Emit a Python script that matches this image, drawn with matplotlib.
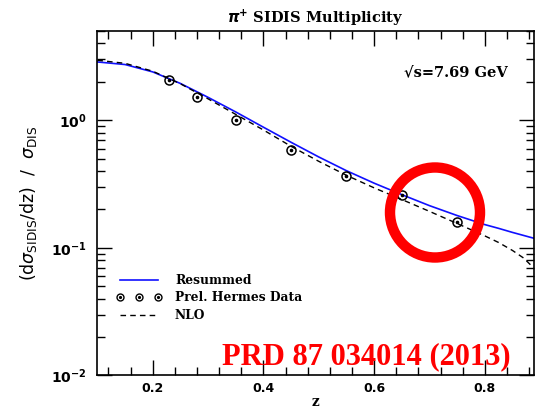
import numpy as np
import matplotlib
matplotlib.use("Agg")
import matplotlib.pyplot as plt
from matplotlib.patches import Ellipse
from matplotlib.lines import Line2D
from matplotlib.ticker import FixedLocator, MultipleLocator, LogLocator, NullFormatter, FuncFormatter

# Preliminary HERMES pi+ multiplicities
z_data = [0.23, 0.28, 0.35, 0.45, 0.55, 0.65, 0.75]
m_data = [2.06, 1.52, 1.00, 0.589, 0.364, 0.258, 0.158]

# Theory curves
z_curve = [0.10, 0.15, 0.20, 0.25, 0.30, 0.35, 0.40, 0.45, 0.50, 0.55,
           0.60, 0.65, 0.70, 0.75, 0.80, 0.825, 0.85, 0.87, 0.888]
m_resummed = [2.86, 2.73, 2.39, 1.94, 1.51, 1.16, 0.881, 0.671, 0.515, 0.402,
              0.321, 0.261, 0.214, 0.179, 0.152, 0.142, 0.132, 0.125, 0.119]
m_nlo = [2.95, 2.79, 2.42, 1.93, 1.47, 1.11, 0.838, 0.624, 0.476, 0.370,
         0.295, 0.239, 0.193, 0.155, 0.124, 0.110, 0.0953, 0.0832, 0.0698]

x_ticks = [0.2, 0.4, 0.6, 0.8]

W, H = 535, 409
fig = plt.figure(figsize=(W / 100, H / 100), dpi=100)
ax = fig.add_axes([97.4 / W, 1 - 375.4 / H, (533.5 - 97.4) / W, (375.4 - 31) / H])

lab_font = dict(family="DejaVu Serif", weight="bold")

res_line, = ax.plot(z_curve, m_resummed, color="#1010ff", lw=1.2)
nlo_line, = ax.plot(z_curve, m_nlo, color="black", lw=1.0, ls=(0, (4, 3)))
ax.plot(z_data, m_data, ls="none", marker="o", ms=6.5,
        mfc="none", mec="black", mew=1.1)
ax.plot(z_data, m_data, ls="none", marker="o", ms=1.6,
        mfc="black", mec="black")

ax.set_yscale("log")
ax.set_xlim(0.1, 0.888)
ax.set_ylim(0.01, 5.0)

ax.xaxis.set_major_locator(FixedLocator(x_ticks))
ax.xaxis.set_minor_locator(MultipleLocator(0.04))
ax.yaxis.set_major_locator(LogLocator(base=10, numticks=10))
ax.yaxis.set_minor_locator(LogLocator(base=10, subs=np.arange(2, 10), numticks=20))
ax.yaxis.set_minor_formatter(NullFormatter())
ax.xaxis.set_major_formatter(FuncFormatter(lambda v, p: f"{v:.1f}"))

ax.tick_params(which="both", direction="in", top=True, right=True, width=1.0, colors="black")
ax.tick_params(which="major", length=11)
ax.tick_params(which="minor", length=6)
ax.tick_params(axis="x", which="major", pad=5, labelsize=9)
ax.tick_params(axis="y", which="major", pad=8, labelsize=10)
for lbl in ax.get_xticklabels() + ax.get_yticklabels():
    lbl.set_fontfamily("DejaVu Sans")
    lbl.set_fontweight("bold")
for s in ax.spines.values():
    s.set_linewidth(1.2)

ax.set_xlabel("z", fontsize=10, labelpad=0, **lab_font)
ax.set_ylabel(r"$(\mathrm{d}\sigma_{\mathrm{SIDIS}}/\mathrm{dz})\ \ /\ \ \sigma_{\mathrm{DIS}}$",
              fontsize=12.5, labelpad=8)
ax.set_title(r"$\boldsymbol{\pi}^{\mathbf{+}}$ SIDIS Multiplicity", fontsize=10.5, pad=6, **lab_font)

ax.text(0.94, 0.88, "√s=7.69 GeV", transform=ax.transAxes, ha="right", va="center",
        fontsize=10.5, **lab_font)

# Legend handles
leg_open = Line2D([], [], ls="none", marker="o", ms=5, mfc="none", mec="black", mew=1.0)
leg_dot = Line2D([], [], ls="none", marker="o", ms=1.3, mfc="black", mec="black")
ax.legend([res_line, (leg_open, leg_dot), nlo_line],
          ["Resummed", "Prel. Hermes Data", "NLO"],
          loc="upper left", bbox_to_anchor=(0.018, 0.327), frameon=False,
          numpoints=3, handlelength=3.7, handletextpad=1.1, labelspacing=0.38,
          prop=dict(family="DejaVu Serif", weight="bold", size=8.8))

# Citation and highlight ring
fig.text(222 / W, 1 - 364 / H, "PRD 87 034014 (2013)", color="#ff0000",
         fontsize=22, fontweight="bold", family="Liberation Serif",
         ha="left", va="baseline")
ring = Ellipse((435 / W, 1 - 212.5 / H), 90 / W, 90 / H, transform=fig.transFigure,
               fill=False, edgecolor="#ff0000", lw=7.5)
fig.patches.append(ring)

fig.savefig("out.png", dpi=100, facecolor="white")
